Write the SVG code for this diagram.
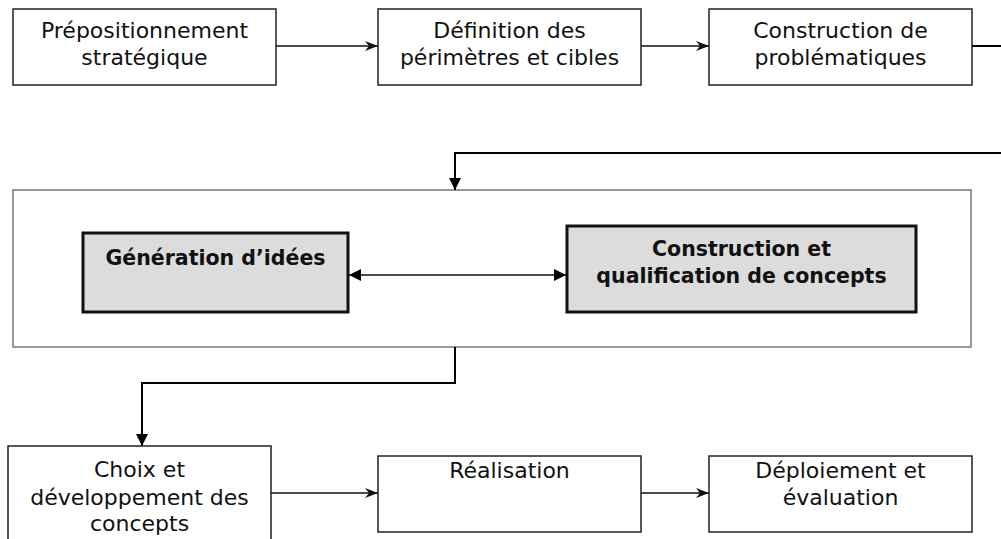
<svg xmlns="http://www.w3.org/2000/svg" width="1001" height="539" viewBox="0 0 1001 539">
<defs>
<style>
.box{fill:#fff;stroke:#222;stroke-width:1.5}
.frame{fill:#fff;stroke:#555;stroke-width:1.2}
.gbox{fill:#dcdcdc;stroke:#111;stroke-width:3}
.t{font-family:"DejaVu Sans",sans-serif;font-size:22px;fill:#111;text-anchor:middle}
.tb{font-family:"DejaVu Sans",sans-serif;font-size:20.5px;font-weight:bold;fill:#111;text-anchor:middle}
.ln{fill:none;stroke:#111;stroke-width:1.5}
.lnt{fill:none;stroke:#000;stroke-width:2}
</style>
<marker id="open" viewBox="0 0 13 12" refX="13" refY="6" markerWidth="13" markerHeight="12" markerUnits="userSpaceOnUse" orient="auto">
<path d="M0,1 L13,6 L0,11 L4,6 Z" fill="#111"/>
</marker>
<marker id="fill" viewBox="0 0 12 12" refX="12" refY="6" markerWidth="12" markerHeight="12" markerUnits="userSpaceOnUse" orient="auto-start-reverse">
<path d="M0,0 L12,6 L0,12 Z" fill="#000"/>
</marker>
</defs>
<g id="frame"><rect class="frame" x="13" y="190" width="958" height="157"/></g>
<g id="connectors">
<line class="ln" x1="276" y1="46" x2="378" y2="46" marker-end="url(#open)"/>
<line class="ln" x1="641" y1="46" x2="709" y2="46" marker-end="url(#open)"/>
<line class="lnt" x1="972" y1="46" x2="1001" y2="46"/>
<polyline class="lnt" points="1001,153 455,153 455,190" marker-end="url(#fill)"/>
<line class="ln" x1="349" y1="275" x2="566" y2="275" marker-start="url(#fill)" marker-end="url(#fill)"/>
<polyline class="lnt" points="455,347 455,383 142,383 142,446" marker-end="url(#fill)"/>
<line class="ln" x1="271" y1="493" x2="378" y2="493" marker-end="url(#open)"/>
<line class="ln" x1="641" y1="493" x2="709" y2="493" marker-end="url(#open)"/>
</g>
<g id="n1"><rect class="box" x="13" y="9" width="263" height="76"/>
<text class="t" x="144.5" y="38">Prépositionnement</text><text class="t" x="144.5" y="65">stratégique</text></g>
<g id="n2"><rect class="box" x="378" y="9" width="263" height="76"/>
<text class="t" x="509.5" y="38">Définition des</text><text class="t" x="509.5" y="65">périmètres et cibles</text></g>
<g id="n3"><rect class="box" x="709" y="9" width="263" height="76"/>
<text class="t" x="840.5" y="38">Construction de</text><text class="t" x="840.5" y="65">problématiques</text></g>
<g id="n4"><rect class="gbox" x="83" y="233" width="265" height="79"/>
<text class="tb" x="215.5" y="265">Génération d’idées</text></g>
<g id="n5"><rect class="gbox" x="567" y="226" width="349" height="86"/>
<text class="tb" x="741.5" y="256">Construction et</text><text class="tb" x="741.5" y="283">qualification de concepts</text></g>
<g id="n6"><rect class="box" x="8" y="446" width="263" height="100"/>
<text class="t" x="139.5" y="477">Choix et</text><text class="t" x="139.5" y="505">développement des</text><text class="t" x="139.5" y="531">concepts</text></g>
<g id="n7"><rect class="box" x="378" y="456" width="263" height="76"/>
<text class="t" x="509.5" y="478">Réalisation</text></g>
<g id="n8"><rect class="box" x="709" y="456" width="263" height="76"/>
<text class="t" x="840.5" y="478">Déploiement et</text><text class="t" x="840.5" y="505">évaluation</text></g>
</svg>
